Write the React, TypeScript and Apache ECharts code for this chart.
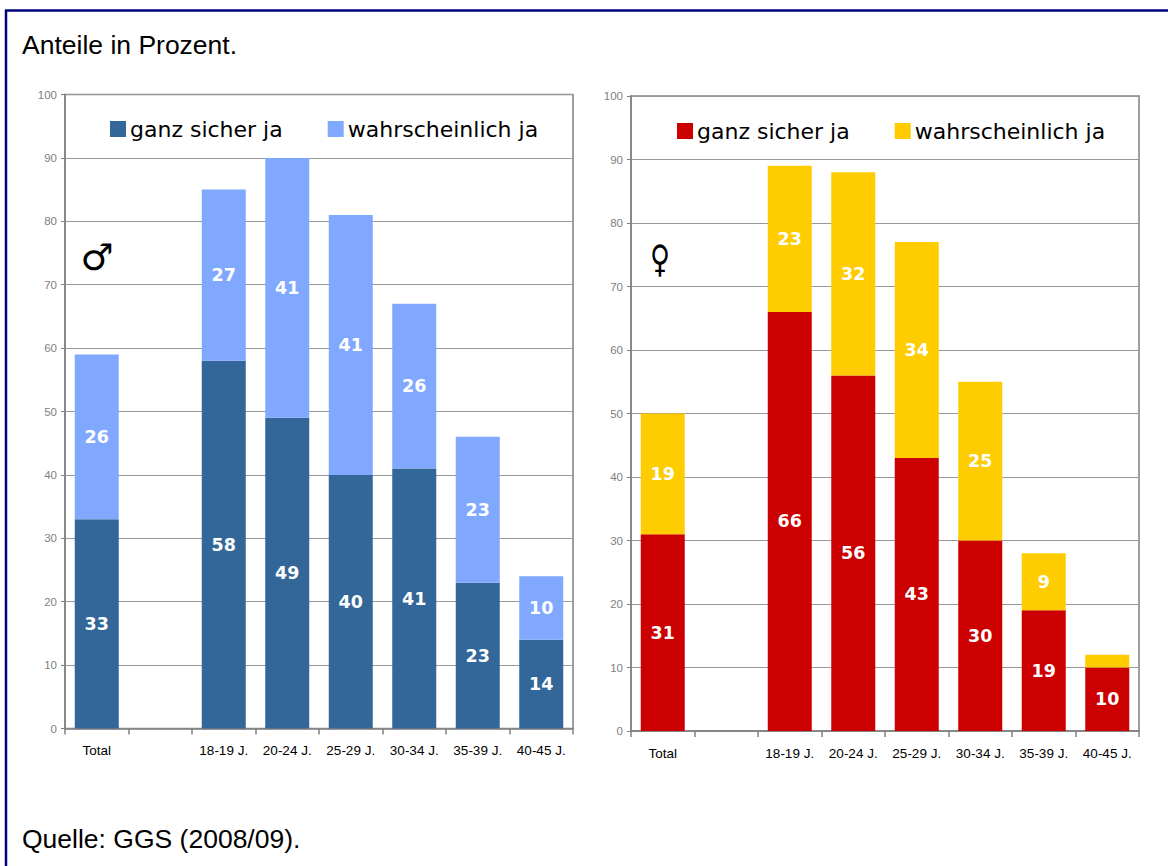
import React, { useEffect, useRef } from "react";
import * as echarts from "echarts";

const categories = ["Total", "", "18-19 J.", "20-24 J.", "25-29 J.", "30-34 J.", "35-39 J.", "40-45 J."];
const maleSicher = [33, "-", 58, 49, 40, 41, 23, 14];
const maleWahrsch = [26, "-", 27, 41, 41, 26, 23, 10];
const femaleSicher = [31, "-", 66, 56, 43, 30, 19, 10];
const femaleWahrsch = [19, "-", 23, 32, 34, 25, 9, 2];
const seriesNames = ["ganz sicher ja", "wahrscheinlich ja"];
const yTicks = { min: 0, max: 100, interval: 10 };

const colors = {
  maleDark: "#336699",
  maleLight: "#80A8FF",
  femaleDark: "#CC0000",
  femaleLight: "#FFCC00",
};

export default function App() {
  const ref = useRef<HTMLDivElement>(null);
  useEffect(() => {
    if (!ref.current) return;
    const chart = echarts.init(ref.current, undefined, { renderer: "svg" });
    const grids = [
      { left: 65, top: 94.5, width: 508, height: 634 },
      { left: 631, top: 96, width: 508, height: 635 },
    ];
    const labelStyle = {
      show: true,
      position: "inside",
      color: "#ffffff",
      fontFamily: "DejaVu Sans",
      fontWeight: "bold",
      fontSize: 17.5,
      formatter: (p: any) => (typeof p.value === "number" && p.value >= 5 ? String(p.value) : ""),
    };
    const mkX = (gi: number) => ({
      type: "category",
      gridIndex: gi,
      data: categories,
      boundaryGap: true,
      axisLine: { show: true, lineStyle: { color: "#808080", width: 1.5 } },
      axisTick: { show: true, alignWithLabel: false, length: 6, lineStyle: { color: "#808080", width: 1.5 } },
      axisLabel: {
        color: "#000",
        fontFamily: "Liberation Sans",
        fontSize: 13.5,
        margin: 15,
        interval: 0,
      },
    });
    const mkY = (gi: number) => ({
      type: "value",
      gridIndex: gi,
      min: yTicks.min,
      max: yTicks.max,
      interval: yTicks.interval,
      axisLine: { show: true, lineStyle: { color: "#808080", width: 1.5 } },
      axisTick: { show: true, length: 4, lineStyle: { color: "#808080" } },
      axisLabel: { color: "#808080", fontFamily: "Liberation Sans", fontSize: 11.5, margin: 8 },
      splitLine: { show: true, lineStyle: { color: "#999999", width: 1 } },
    });
    const mkSeries = (name: string, data: any[], gi: number, color: string) => ({
      type: "bar",
      name,
      data,
      stack: "s" + gi,
      xAxisIndex: gi,
      yAxisIndex: gi,
      barWidth: 44,
      itemStyle: { color },
      label: labelStyle,
    });
    const legendText = { fontFamily: "DejaVu Sans", fontSize: 22, color: "#000" };
    const legendBase = {
      padding: 0,
      icon: "rect",
      itemWidth: 16,
      itemHeight: 16,
      itemGap: 45,
      textStyle: { ...legendText, padding: [0, 0, 0, -1] },
      selectedMode: false,
    };
    chart.setOption({
      animation: false,
      grid: grids.map((g) => ({ ...g, show: true, borderColor: "#808080", borderWidth: 1.5, backgroundColor: "transparent" })),
      xAxis: [mkX(0), mkX(1)],
      yAxis: [mkY(0), mkY(1)],
      legend: [
        {
          ...legendBase,
          left: 110,
          top: 118,
          data: [
            { name: seriesNames[0], itemStyle: { color: colors.maleDark } },
            { name: seriesNames[1], itemStyle: { color: colors.maleLight } },
          ],
        },
        {
          ...legendBase,
          left: 677,
          top: 120,
          data: [
            { name: seriesNames[0], itemStyle: { color: colors.femaleDark } },
            { name: seriesNames[1], itemStyle: { color: colors.femaleLight } },
          ],
        },
      ],
      series: [
        mkSeries(seriesNames[0], maleSicher, 0, colors.maleDark),
        mkSeries(seriesNames[1], maleWahrsch, 0, colors.maleLight),
        mkSeries(seriesNames[0], femaleSicher, 1, colors.femaleDark),
        mkSeries(seriesNames[1], femaleWahrsch, 1, colors.femaleLight),
      ],
      graphic: [
        { type: "line", shape: { x1: 5, y1: 10.5, x2: 1168, y2: 10.5 }, style: { stroke: "#000080", lineWidth: 2.5 } },
        { type: "line", shape: { x1: 6, y1: 10, x2: 6, y2: 866 }, style: { stroke: "#000080", lineWidth: 2.5 } },
        {
          type: "text",
          x: 22,
          y: 45,
          style: { text: "Anteile in Prozent.", font: '26.5px "Liberation Sans"', fill: "#000", textVerticalAlign: "middle" },
        },
        {
          type: "text",
          x: 22,
          y: 839,
          style: { text: "Quelle: GGS (2008/09).", font: '26.5px "Liberation Sans"', fill: "#000", textVerticalAlign: "middle" },
        },
        {
          type: "text",
          x: 97,
          y: 257,
          style: { text: "♂", font: '37px "DejaVu Sans"', fill: "#000", textAlign: "center", textVerticalAlign: "middle" },
        },
        {
          type: "text",
          x: 660,
          y: 259,
          scaleX: 0.72,
          style: { text: "♀", font: '38px "DejaVu Sans"', fill: "#000", textAlign: "center", textVerticalAlign: "middle" },
        },
      ],
    });
    return () => chart.dispose();
  }, []);
  return (
    <div
      ref={ref}
      style={{ position: "fixed", left: 0, top: 0, width: 1168, height: 866, background: "#fff" }}
    />
  );
}
